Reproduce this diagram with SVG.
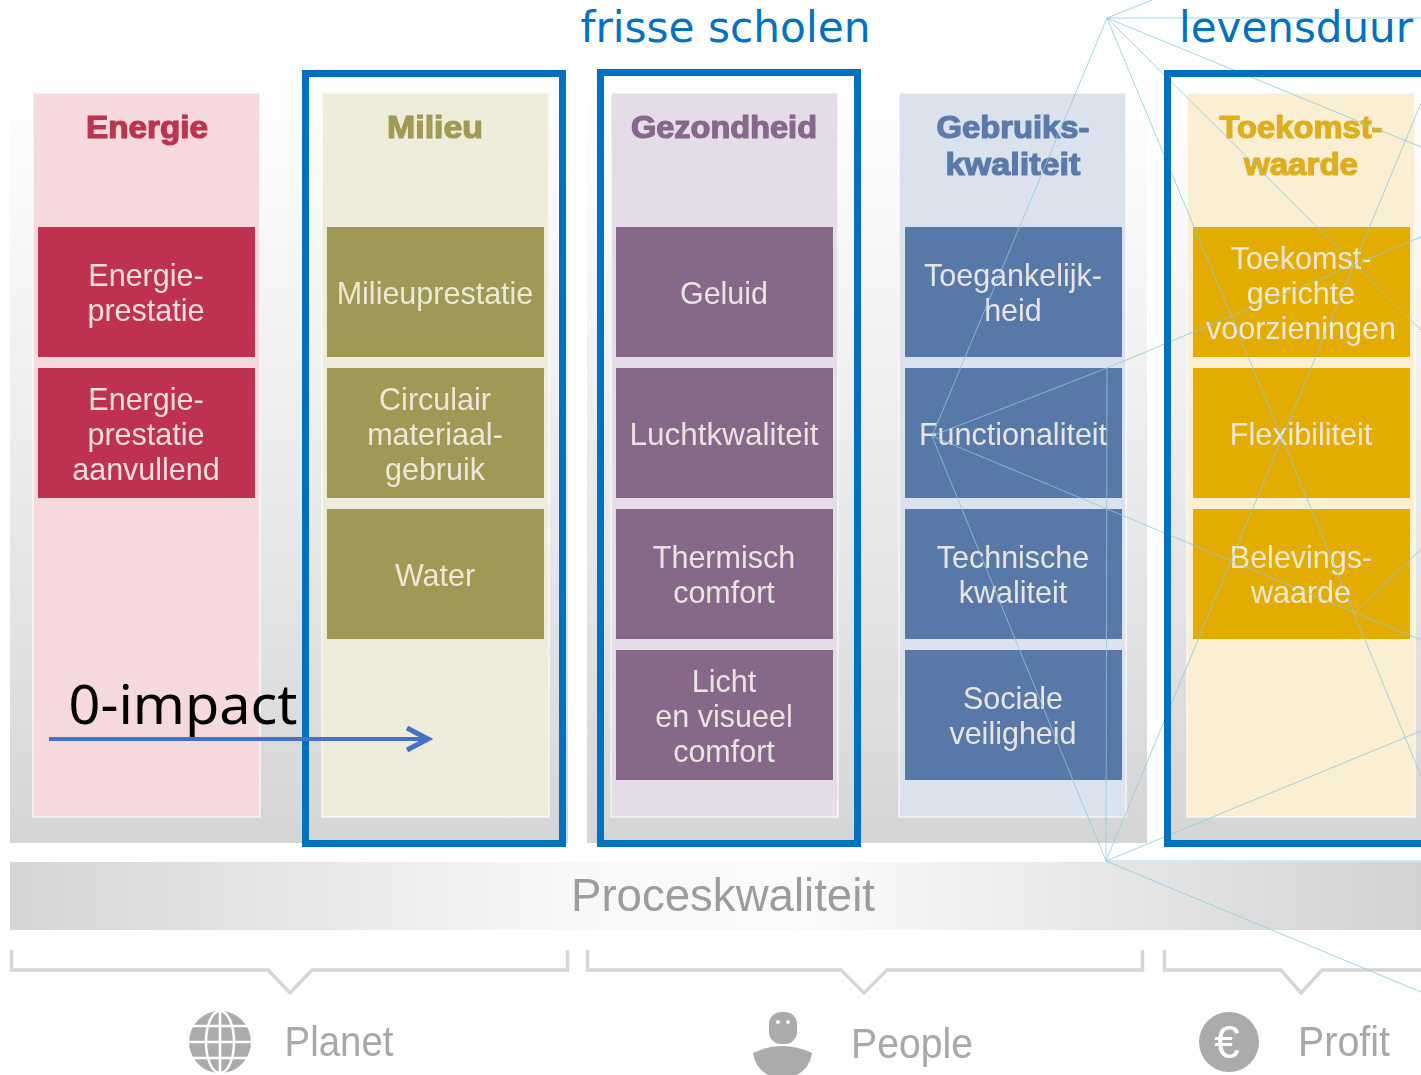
<svg xmlns="http://www.w3.org/2000/svg" width="1421" height="1075" viewBox="0 0 1421 1075">
<style>
text{font-family:"Liberation Sans",Arial,sans-serif;text-anchor:middle}
.soft{filter:url(#soft)}
.cell text{font-size:30.5px;fill:#f3eee6;fill-opacity:.92}
.cell text.title{font-size:31px;font-weight:bold;stroke-width:1.2px;fill-opacity:1}
.col{stroke:#fff;stroke-opacity:.55;stroke-width:2}
.frame{fill:none;stroke:#0070c0;stroke-width:7}
.mesh{fill:none;stroke:#8ccbdc;stroke-width:1;stroke-opacity:.8}
.brk{fill:none;stroke:#d6d6d6;stroke-width:3.5}
.pillar{font-size:42px;fill:#a3a3a3;fill-opacity:.95}
.head{font-family:"DejaVu Sans",sans-serif;font-size:43px;fill:#0070c0}
.ico{fill:#ababab}
</style>
<defs>
<linearGradient id="bg" x1="0" y1="70" x2="0" y2="843" gradientUnits="userSpaceOnUse">
<stop offset="0" stop-color="#fff"/><stop offset=".3" stop-color="#f4f4f5"/><stop offset=".7" stop-color="#e2e3e4"/><stop offset="1" stop-color="#d5d5d5"/>
</linearGradient>
<linearGradient id="band" x1="10" y1="0" x2="1421" y2="0" gradientUnits="userSpaceOnUse">
<stop offset="0" stop-color="#d5d5d5"/><stop offset=".4" stop-color="#f9f8f8"/><stop offset=".56" stop-color="#fbfbfb"/><stop offset="1" stop-color="#d2d2d2"/>
</linearGradient>
<filter id="soft" x="-5%" y="-5%" width="110%" height="110%"><feGaussianBlur stdDeviation=".45"/></filter>
<marker id="arr" markerUnits="userSpaceOnUse" markerWidth="30" markerHeight="34" refX="25" refY="17" orient="auto">
<path d="M3 6 L24 17 L3 28" fill="none" stroke="#4472c4" stroke-width="5"/>
</marker>
</defs>
<rect width="1421" height="1075" fill="#fff"/>
<g id="backdrop" class="soft">
<rect x="10" y="70" width="558" height="773" fill="url(#bg)"/>
<rect x="587" y="70" width="560" height="773" fill="url(#bg)"/>
<rect x="1165" y="70" width="256" height="773" fill="url(#bg)"/>
</g>
<g id="energie" class="cell soft">
<rect class="col" x="33" y="93" width="227" height="724" fill="#f5d9dc"/>
<text class="title" x="147" y="138" textLength="122" lengthAdjust="spacingAndGlyphs" style="fill:#bc3450;stroke:#bc3450">Energie</text>
<rect x="38" y="227" width="217" height="130" fill="#bf3350"/>
<rect x="38" y="368" width="217" height="130" fill="#bf3350"/>
<text x="146" y="286">Energie-</text><text x="146" y="321">prestatie</text>
<text x="146" y="410">Energie-</text><text x="146" y="445">prestatie</text><text x="146" y="480">aanvullend</text>
</g>
<g id="milieu" class="cell soft">
<rect class="col" x="322" y="93" width="227" height="724" fill="#eeeddc"/>
<text class="title" x="435" y="138" textLength="96" lengthAdjust="spacingAndGlyphs" style="fill:#a09a57;stroke:#a09a57">Milieu</text>
<rect x="327" y="227" width="217" height="130" fill="#a09955"/>
<rect x="327" y="368" width="217" height="130" fill="#a09955"/>
<rect x="327" y="509" width="217" height="130" fill="#a09955"/>
<text x="435" y="304">Milieuprestatie</text>
<text x="435" y="410">Circulair</text><text x="435" y="445">materiaal-</text><text x="435" y="480">gebruik</text>
<text x="435" y="586">Water</text>
</g>
<g id="gezondheid" class="cell soft">
<rect class="col" x="611" y="93" width="227" height="724" fill="#e4dce7"/>
<text class="title" x="724" y="138" textLength="186" lengthAdjust="spacingAndGlyphs" style="fill:#86688a;stroke:#86688a">Gezondheid</text>
<rect x="616" y="227" width="217" height="130" fill="#866888"/>
<rect x="616" y="368" width="217" height="130" fill="#866888"/>
<rect x="616" y="509" width="217" height="130" fill="#866888"/>
<rect x="616" y="650" width="217" height="130" fill="#866888"/>
<text x="724" y="304">Geluid</text>
<text x="724" y="445" textLength="189" lengthAdjust="spacingAndGlyphs">Luchtkwaliteit</text>
<text x="724" y="568">Thermisch</text><text x="724" y="603">comfort</text>
<text x="724" y="692">Licht</text><text x="724" y="727">en visueel</text><text x="724" y="762">comfort</text>
</g>
<g id="gebruikskwaliteit" class="cell soft">
<rect class="col" x="899" y="93" width="227" height="724" fill="#dce1ee"/>
<text class="title" x="1013" y="138" textLength="153" lengthAdjust="spacingAndGlyphs" style="fill:#5a7aa9;stroke:#5a7aa9">Gebruiks-</text>
<text class="title" x="1013" y="175" textLength="135" lengthAdjust="spacingAndGlyphs" style="fill:#5a7aa9;stroke:#5a7aa9">kwaliteit</text>
<rect x="905" y="227" width="217" height="130" fill="#5878a8"/>
<rect x="905" y="368" width="217" height="130" fill="#5878a8"/>
<rect x="905" y="509" width="217" height="130" fill="#5878a8"/>
<rect x="905" y="650" width="217" height="130" fill="#5878a8"/>
<text x="1013" y="286">Toegankelijk-</text><text x="1013" y="321">heid</text>
<text x="1013" y="445">Functionaliteit</text>
<text x="1013" y="568">Technische</text><text x="1013" y="603">kwaliteit</text>
<text x="1013" y="709">Sociale</text><text x="1013" y="744">veiligheid</text>
</g>
<g id="toekomstwaarde" class="cell soft">
<rect class="col" x="1187" y="93" width="228" height="724" fill="#faeed3"/>
<text class="title" x="1301" y="138" textLength="163" lengthAdjust="spacingAndGlyphs" style="fill:#dfae1c;stroke:#dfae1c">Toekomst-</text>
<text class="title" x="1301" y="175" textLength="114" lengthAdjust="spacingAndGlyphs" style="fill:#dfae1c;stroke:#dfae1c">waarde</text>
<rect x="1193" y="227" width="217" height="130" fill="#e2ac00"/>
<rect x="1193" y="368" width="217" height="130" fill="#e2ac00"/>
<rect x="1193" y="509" width="217" height="130" fill="#e2ac00"/>
<text x="1301" y="269">Toekomst-</text><text x="1301" y="304">gerichte</text><text x="1301" y="339">voorzieningen</text>
<text x="1301" y="445">Flexibiliteit</text>
<text x="1301" y="568">Belevings-</text><text x="1301" y="603">waarde</text>
</g>
<g id="proceskwaliteit" class="soft">
<rect x="10" y="862" width="1411" height="68" fill="url(#band)"/>
<text x="723" y="911" font-size="46" fill="#9c9c9c" textLength="304" lengthAdjust="spacingAndGlyphs">Proceskwaliteit</text>
</g>
<g id="planet" class="soft">
<path class="brk" d="M11.500 950V970H268L290 993L312 970H567.500V950"/>
<g class="ico">
<circle cx="220" cy="1042" r="31"/>
<g fill="none" stroke="#fff" stroke-width="2.500">
<ellipse cx="220" cy="1042" rx="14" ry="31"/><path d="M220 1011V1073M189 1042H251M193 1026H247M193 1058H247"/>
</g></g>
<text class="pillar" x="339" y="1056" textLength="109" lengthAdjust="spacingAndGlyphs">Planet</text>
</g>
<g id="people" class="soft">
<path class="brk" d="M587.500 950V970H841L864 993L887 970H1142.500V950"/>
<rect class="ico" x="769" y="1012" width="28" height="32" rx="12"/>
<circle cx="778" cy="1022" r="2" fill="#fff"/><circle cx="788" cy="1022" r="2" fill="#fff"/>
<path class="ico" d="M753 1053Q782 1039 812 1053Q810 1068 797 1075H768Q755 1068 753 1053Z"/>
<text class="pillar" x="912" y="1058" textLength="122" lengthAdjust="spacingAndGlyphs">People</text>
</g>
<g id="profit" class="soft">
<path class="brk" d="M1164.500 950V970H1281L1301 993L1322 970H1421"/>
<circle class="ico" cx="1229" cy="1042" r="30"/>
<text x="1227" y="1058" font-size="46" fill="#fff">€</text>
<text class="pillar" x="1344" y="1056" textLength="92" lengthAdjust="spacingAndGlyphs">Profit</text>
</g>
<g id="connectors">
<g id="mesh" class="mesh">
<path d="M1107 18L1152 0M1107 18H1421M1107 18L1421 147M1107 18L1421 330M1107 18L1282 438M1107 18L932 436"/>
<path d="M932 436L1107 368L1421 237M932 436L1421 640M932 436L1106 861M1107 368L1106 861"/>
<path d="M1421 103L1282 438L1106 861M1282 438L1421 776M1354 614L1421 549"/>
<path d="M1106 861L1421 731M1106 861H1421M1106 861L1421 992"/>
</g>
</g>
<g id="frames">
<rect class="frame" x="305.500" y="73.500" width="257" height="770"/>
<rect class="frame" x="600.500" y="72.500" width="257" height="771"/>
<rect class="frame" x="1167.500" y="73.500" width="270" height="770"/>
</g>
<g id="headings">
<text class="head" x="725.500" y="42" textLength="290" lengthAdjust="spacingAndGlyphs">frisse scholen</text>
<text class="head" x="1296" y="42" textLength="234" lengthAdjust="spacingAndGlyphs">levensduur</text>
</g>
<g id="impact">
<path d="M49 739H429" fill="none" stroke="#4472c4" stroke-width="4" marker-end="url(#arr)"/>
<text x="183" y="724" style="font-family:'Noto Sans',sans-serif" font-size="54" fill="#000" textLength="229" lengthAdjust="spacingAndGlyphs">0-impact</text>
</g>
</svg>
